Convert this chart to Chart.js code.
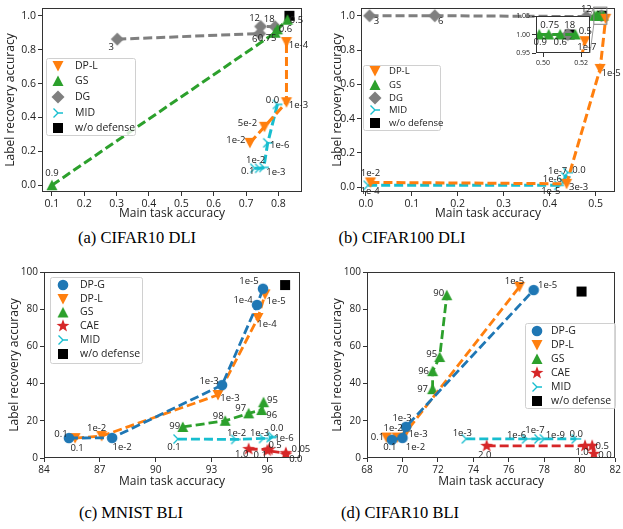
<!DOCTYPE html>
<html>
<head>
<meta charset="utf-8">
<script src="https://cdn.jsdelivr.net/npm/chart.js@4.4.0/dist/chart.umd.min.js"></script>
<style>
  html, body { margin: 0; padding: 0; background: #fff; overflow: hidden; }
  #page { position: relative; width: 623px; height: 529px; }
  canvas { position: absolute; }
  .cap { position: absolute; font-family: 'Liberation Serif', 'Times New Roman', serif; font-size: 16.5px;
         line-height: 19px; color: #000; transform: translateX(-50%); white-space: nowrap; }
</style>
</head>
<body>
<div id="page">
  <canvas id="chart_a" width="310" height="225" style="left:0px;top:0px"></canvas>
  <canvas id="chart_b" width="313" height="225" style="left:310px;top:0px"></canvas>
  <canvas id="chart_b_inset" width="115" height="70" style="left:505px;top:0px"></canvas>
  <canvas id="chart_c" width="310" height="235" style="left:0px;top:255px"></canvas>
  <canvas id="chart_d" width="313" height="235" style="left:310px;top:255px"></canvas>
  <div class="cap" style="left:137px;top:228px">(a) CIFAR10 DLI</div>
  <div class="cap" style="left:402px;top:228px">(b) CIFAR100 DLI</div>
  <div class="cap" style="left:131px;top:503px">(c) MNIST BLI</div>
  <div class="cap" style="left:400px;top:503px">(d) CIFAR10 BLI</div>
</div>
<script>
// values

// (a) CIFAR10 DLI
const A_XTICKS = [0.1, 0.2, 0.3, 0.4, 0.5, 0.6, 0.7, 0.8];
const A_YTICKS = [0.0, 0.2, 0.4, 0.6, 0.8, 1.0];
const A_DPL_X = [0.712, 0.757, 0.825, 0.825];
const A_DPL_Y = [0.25, 0.345, 0.49, 0.845];
const A_DPL_TXT = ['1e-2', '5e-2', '1e-3', '1e-4'];
const A_GS_X = [0.1, 0.79, 0.797, 0.828];
const A_GS_Y = [0.0, 0.9, 0.92, 0.977];
const A_GS_TXT = ['0.9', '0.75', '0.6', '0.5'];
const A_DG_X = [0.302, 0.742, 0.745, 0.79];
const A_DG_Y = [0.862, 0.895, 0.937, 0.935];
const A_DG_TXT = ['3', '6', '12', '18'];
const A_MID_X = [0.727, 0.742, 0.755, 0.767, 0.797];
const A_MID_Y = [0.1, 0.1, 0.105, 0.25, 0.477];
const A_MID_TXT = ['0.1', '1e-2', '1e-3', '1e-6', '0.0'];
const A_WO_X = [0.834];
const A_WO_Y = [1.0];

// (b) CIFAR100 DLI
const B_XTICKS = [0.0, 0.1, 0.2, 0.3, 0.4, 0.5];
const B_YTICKS = [0.0, 0.2, 0.4, 0.6, 0.8, 1.0];
const B_INSET_XTICKS = [0.50, 0.52];
const B_INSET_YTICKS = [0.95, 1.00, 1.05];
const B_DPL_X = [0.01, 0.437, 0.51, 0.522];
const B_DPL_Y = [0.028, 0.02, 0.69, 0.982];
const B_DPL_TXT = ['1e-2', '3e-3', '1e-5', '1e-7'];
const B_GS_X = [0.498, 0.503, 0.509, 0.517];
const B_GS_Y = [1.0, 1.0, 1.0, 1.0];
const B_GS_TXT = ['0.9', '0.75', '0.6', '0.5'];
const B_DG_X = [0.008, 0.15, 0.48, 0.513];
const B_DG_Y = [1.0, 1.0, 0.995, 1.0];
const B_DG_TXT = ['3', '6', '12', '18'];
const B_MID_X = [0.005, 0.42, 0.43, 0.435, 0.44];
const B_MID_Y = [0.011, 0.011, 0.03, 0.06, 0.085];
const B_MID_TXT = ['1e-4', '1e-5', '1e-6', '1e-7', '0.0'];
const B_WO_X = [0.514];
const B_WO_Y = [1.0];

// (c) MNIST BLI
const C_XTICKS = [84, 87, 90, 93, 96];
const C_YTICKS = [0, 20, 40, 60, 80, 100];
const C_DPG_X = [85.34, 87.66, 93.57, 95.45, 95.77];
const C_DPG_Y = [10.75, 10.8, 39.2, 82.3, 91.0];
const C_DPG_TXT = ['0.1', '1e-2', '1e-3', '1e-4', '1e-5'];
const C_DPL_X = [85.67, 87.1, 93.35, 95.5, 95.88];
const C_DPL_Y = [10.7, 11.8, 33.9, 75.3, 88.0];
const C_DPL_TXT = ['0.1', '1e-2', '1e-3', '1e-4', '1e-5'];
const C_GS_X = [91.46, 93.74, 95.0, 95.7, 95.8];
const C_GS_Y = [16.7, 20.0, 24.0, 25.8, 30.0];
const C_GS_TXT = ['99', '98', '97', '96', '95'];
const C_CAE_X = [95.0, 96.1, 96.0, 97.0, 97.0];
const C_CAE_Y = [4.8, 4.6, 4.0, 2.6, 1.8];
const C_CAE_TXT = ['1.0', '0.5', '0.1', '0.05', '0.0'];
const C_MID_X = [91.2, 94.3, 95.8, 96.2, 96.3];
const C_MID_Y = [10.2, 10.0, 10.5, 11.0, 11.5];
const C_MID_TXT = ['0.1', '1e-2', '1e-3', '1e-6', '0.0'];
const C_WO_X = [96.96];
const C_WO_Y = [93.0];

// (d) CIFAR10 BLI
const D_XTICKS = [68, 70, 72, 74, 76, 78, 80, 82];
const D_YTICKS = [0, 20, 40, 60, 80, 100];
const D_DPG_X = [69.4, 70.0, 70.2, 77.4];
const D_DPG_Y = [9.8, 10.8, 16.8, 90.3];
const D_DPG_TXT = ['0.1', '1e-2', '1e-3', '1e-5'];
const D_DPL_X = [69.1, 69.7, 70.2, 76.6];
const D_DPL_Y = [11.0, 11.0, 14.0, 92.0];
const D_DPL_TXT = ['0.1', '1e-2', '1e-3', '1e-5'];
const D_GS_X = [71.7, 71.7, 72.1, 72.5];
const D_GS_Y = [37.0, 46.7, 54.3, 87.5];
const D_GS_TXT = ['97', '96', '95', '90'];
const D_CAE_X = [74.75, 80.3, 80.7, 80.8];
const D_CAE_Y = [6.5, 6.5, 6.5, 2.2];
const D_CAE_TXT = ['2.0', '1.0', '0.5', '0.0'];
const D_MID_X = [73.6, 77.0, 77.7, 78.0, 79.8];
const D_MID_Y = [10.3, 10.3, 10.3, 10.3, 10.3];
const D_MID_TXT = ['1e-3', '1e-6', '1e-7', '1e-9', '0.0'];
const D_WO_X = [80.1];
const D_WO_Y = [89.5];


const FONT = "'Open Sans', 'DejaVu Sans', sans-serif";
const TEXT_COLOR = '#222222';
const FRAME_COLOR = '#333333';
const C_BLUE = '#1f77b4';
const C_ORANGE = '#ff7f0e';
const C_GREEN = '#2ca02c';
const C_GRAY = '#7f7f7f';
const C_RED = '#d62728';
const C_CYAN = '#17becf';
const C_BLACK = '#000000';

// marker images, shared by the plot and the legend
function make_marker( kind, color ) {
  const c = document.createElement( 'canvas' );
  c.width = 16;
  c.height = 16;
  const g = c.getContext( '2d' );
  g.fillStyle = color;
  g.strokeStyle = color;
  g.translate( 8, 8 );
  g.beginPath();
  if ( kind == 'circle' ) {
    g.arc( 0, 0, 5.3, 0, 2 * Math.PI );
    g.fill();
  } else if ( kind == 'tri_down' ) {
    g.moveTo( -5.5, -5 ); g.lineTo( 5.5, -5 ); g.lineTo( 0, 5.5 );
    g.closePath(); g.fill();
  } else if ( kind == 'tri_up' ) {
    g.moveTo( -5.5, 5 ); g.lineTo( 5.5, 5 ); g.lineTo( 0, -5.5 );
    g.closePath(); g.fill();
  } else if ( kind == 'diamond' ) {
    g.moveTo( 0, -6.5 ); g.lineTo( 6.5, 0 ); g.lineTo( 0, 6.5 ); g.lineTo( -6.5, 0 );
    g.closePath(); g.fill();
  } else if ( kind == 'square' ) {
    g.fillRect( -5, -5, 10, 10 );
  } else if ( kind == 'star' ) {
    for ( let i = 0; i < 10; i++ ) {
      const r = i % 2 == 0 ? 6.8 : 2.8;
      const a = -Math.PI / 2 + i * Math.PI / 5;
      if ( i == 0 ) g.moveTo( r * Math.cos( a ), r * Math.sin( a ) );
      else g.lineTo( r * Math.cos( a ), r * Math.sin( a ) );
    }
    g.closePath(); g.fill();
  } else if ( kind == 'tri_right' ) {
    g.lineWidth = 1.4;
    g.moveTo( 0, 0 ); g.lineTo( 5, 0 );
    g.moveTo( 0, 0 ); g.lineTo( -4.5, -4.5 );
    g.moveTo( 0, 0 ); g.lineTo( -4.5, 4.5 );
    g.stroke();
  }
  return c;
}

function to_points( xs, ys ) {
  return xs.map( ( x, i ) => ( { x: x, y: ys[ i ] } ) );
}

function make_set( label, xs, ys, texts, offsets, color, kind, width, clip ) {
  const ds = {
    label: label,
    data: to_points( xs, ys ),
    showLine: width > 0,
    borderColor: color,
    backgroundColor: color,
    borderWidth: width,
    borderDash: [ 9, 4 ],
    pointStyle: make_marker( kind, color ),
    pointRadius: 5,
    point_texts: texts,
    text_offsets: offsets
  };
  if ( clip !== undefined ) ds.clip = clip;
  return ds;
}

function make_axis( horizontal, range, ticks, digits, size, title, title_pad, font_size ) {
  return {
    type: 'linear',
    position: horizontal ? 'bottom' : 'left',
    min: range[ 0 ],
    max: range[ 1 ],
    afterBuildTicks: s => { s.ticks = ticks.map( v => ( { value: v } ) ); },
    afterFit: s => {
      if ( horizontal ) s.height = size; else s.width = size;
      s.paddingLeft = 0; s.paddingRight = 0; s.paddingTop = 0; s.paddingBottom = 0;
    },
    ticks: {
      font: { family: FONT, size: font_size },
      color: TEXT_COLOR,
      padding: 2,
      maxRotation: 0,
      autoSkip: false,
      callback: v => v.toFixed( digits )
    },
    grid: { drawOnChartArea: false, drawTicks: true, tickLength: 4, color: FRAME_COLOR, lineWidth: 1 },
    border: { display: false },
    title: title ? {
      display: true, text: title, color: TEXT_COLOR,
      font: { family: FONT, size: 12 }, padding: title_pad
    } : { display: false }
  };
}

// axes box drawn on all four sides
const frame_plugin = {
  id: 'frame',
  beforeDraw( chart, args, o ) {
    if ( !o.white ) return;
    const a = chart.chartArea;
    chart.ctx.save();
    chart.ctx.fillStyle = '#ffffff';
    chart.ctx.fillRect( a.left, a.top, a.right - a.left, a.bottom - a.top );
    chart.ctx.restore();
  },
  afterDatasetsDraw( chart ) {
    const a = chart.chartArea;
    const ctx = chart.ctx;
    ctx.save();
    ctx.strokeStyle = FRAME_COLOR;
    ctx.lineWidth = 1;
    ctx.strokeRect( Math.round( a.left ) + 0.5, Math.round( a.top ) + 0.5,
      Math.round( a.right - a.left ) - 1, Math.round( a.bottom - a.top ) - 1 );
    ctx.restore();
  }
};

// small text next to every point
const point_text_plugin = {
  id: 'point_texts',
  afterDatasetsDraw( chart, args, o ) {
    const ctx = chart.ctx;
    ctx.save();
    ctx.font = o.size + 'px ' + FONT;
    ctx.fillStyle = TEXT_COLOR;
    ctx.textAlign = 'center';
    ctx.textBaseline = 'middle';
    chart.data.datasets.forEach( ( ds, i ) => {
      if ( !ds.point_texts || !ds.text_offsets ) return;
      const meta = chart.getDatasetMeta( i );
      ds.point_texts.forEach( ( t, j ) => {
        const off = ds.text_offsets[ j ];
        if ( !off ) return;
        ctx.fillText( t, meta.data[ j ].x + off[ 0 ], meta.data[ j ].y + off[ 1 ] );
      } );
    } );
    ctx.restore();
  }
};

// legend box placed like the matplotlib one
const legend_plugin = {
  id: 'mini_legend',
  afterDraw( chart, args, o ) {
    if ( !o.box ) return;
    const ctx = chart.ctx;
    const [ bx, by, bw, bh ] = o.box;
    ctx.save();
    ctx.beginPath();
    ctx.roundRect( bx + 0.5, by + 0.5, bw, bh, 2 );
    ctx.fillStyle = 'rgba(255,255,255,0.8)';
    ctx.fill();
    ctx.strokeStyle = '#d0d0d0';
    ctx.lineWidth = 1;
    ctx.stroke();
    ctx.font = o.size + 'px ' + FONT;
    ctx.textBaseline = 'middle';
    ctx.textAlign = 'left';
    chart.data.datasets.forEach( ( ds, i ) => {
      const y = o.rows[ i ];
      ctx.drawImage( ds.pointStyle, o.mx - 8, y - 8 );
      ctx.fillStyle = TEXT_COLOR;
      ctx.fillText( ds.label, o.tx, y );
    } );
    ctx.restore();
  }
};

// rectangle marking the zoomed region in (b)
const zoom_box_plugin = {
  id: 'zoom_box',
  afterDatasetsDraw( chart, args, o ) {
    if ( !o.x ) return;
    const sx = chart.scales.x, sy = chart.scales.y;
    const ctx = chart.ctx;
    const x0 = sx.getPixelForValue( o.x[ 0 ] ), x1 = sx.getPixelForValue( o.x[ 1 ] );
    const y0 = sy.getPixelForValue( o.y[ 1 ] ), y1 = sy.getPixelForValue( o.y[ 0 ] );
    ctx.save();
    ctx.strokeStyle = '#808080';
    ctx.lineWidth = 1;
    ctx.strokeRect( x0, y0, x1 - x0, y1 - y0 );
    ctx.restore();
  }
};

const PLUGINS = [ frame_plugin, point_text_plugin, legend_plugin, zoom_box_plugin ];

function base_options( x_axis, y_axis, padding, legend, text_size, extra ) {
  return {
    responsive: false,
    animation: false,
    devicePixelRatio: 1,
    events: [],
    layout: { padding: padding },
    scales: { x: x_axis, y: y_axis },
    plugins: {
      legend: { display: false },
      tooltip: { enabled: false },
      frame: extra.frame || {},
      point_texts: { size: text_size },
      mini_legend: legend,
      zoom_box: extra.zoom || {}
    }
  };
}

// ---------- (a)
new Chart( document.getElementById( 'chart_a' ), {
  type: 'scatter',
  data: { datasets: [
    make_set( 'DP-L', A_DPL_X, A_DPL_Y, A_DPL_TXT, [ [ -14, -3 ], [ -17, -3 ], [ 12, 3 ], [ 12, 3 ] ], C_ORANGE, 'tri_down', 3 ),
    make_set( 'GS', A_GS_X, A_GS_Y, A_GS_TXT, [ [ 0, -12 ], [ -8, 6 ], [ 8, 0 ], [ 9, 1 ] ], C_GREEN, 'tri_up', 3 ),
    make_set( 'DG', A_DG_X, A_DG_Y, A_DG_TXT, [ [ -6, 8 ], [ -5, 6 ], [ -6, -8 ], [ -6, -8 ] ], C_GRAY, 'diamond', 3 ),
    make_set( 'MID', A_MID_X, A_MID_Y, A_MID_TXT, [ [ -7, 3 ], [ -4, -8 ], [ 12, 5 ], [ 12, 2 ], [ -5, -4 ] ], C_CYAN, 'tri_right', 3 ),
    make_set( 'w/o defense', A_WO_X, A_WO_Y, null, null, C_BLACK, 'square', 0 )
  ] },
  options: base_options(
    make_axis( true, [ 0.0694, 0.873 ], A_XTICKS, 1, 33, 'Main task accuracy', { bottom: 4 }, 10.5 ),
    make_axis( false, [ -0.04, 1.046 ], A_YTICKS, 1, 42, 'Label recovery accuracy', { top: 3 }, 10.5 ),
    { top: 3, right: 5, left: 0, bottom: 0 },
    { box: [ 46, 58, 89, 77 ], rows: [ 66, 81, 97, 113, 128 ], mx: 58, tx: 75, size: 10.5 },
    9.5, {} ),
  plugins: PLUGINS
} );

// ---------- (b)
function b_sets( off, clip ) {
  return [
    make_set( 'DP-L', B_DPL_X, B_DPL_Y, B_DPL_TXT, off.dpl, C_ORANGE, 'tri_down', 3, clip ),
    make_set( 'GS', B_GS_X, B_GS_Y, B_GS_TXT, off.gs, C_GREEN, 'tri_up', 3, clip ),
    make_set( 'DG', B_DG_X, B_DG_Y, B_DG_TXT, off.dg, C_GRAY, 'diamond', 3, clip ),
    make_set( 'MID', B_MID_X, B_MID_Y, B_MID_TXT, off.mid, C_CYAN, 'tri_right', 3, clip ),
    make_set( 'w/o defense', B_WO_X, B_WO_Y, null, null, C_BLACK, 'square', 0, clip )
  ];
}

const B_ZOOM_X = [ 0.4963, 0.5247 ];
const B_ZOOM_Y = [ 0.95, 1.05 ];

const chart_b = new Chart( document.getElementById( 'chart_b' ), {
  type: 'scatter',
  data: { datasets: b_sets( {
    dpl: [ [ 0, -9 ], [ 12, 4 ], [ 11, 4 ], null ],
    gs: [ null, null, null, null ],
    dg: [ [ 7, 6 ], [ 6, 6 ], [ 0, -7 ], null ],
    mid: [ [ 2, 6 ], [ -8, 6 ], [ -11, -3 ], [ -8, -6 ], [ 11, -2 ] ]
  } ) },
  options: base_options(
    make_axis( true, [ -0.0106, 0.5424 ], B_XTICKS, 1, 33, 'Main task accuracy', { bottom: 4 }, 10.5 ),
    make_axis( false, [ -0.028, 1.045 ], B_YTICKS, 1, 51, 'Label recovery accuracy', { top: 20 }, 10.5 ),
    { top: 3, right: 1, left: 0, bottom: 0 },
    { box: [ 53, 65, 77, 65 ], rows: [ 71, 85, 98, 110, 123 ], mx: 65, tx: 79, size: 9.5 },
    9.5, { zoom: { x: B_ZOOM_X, y: B_ZOOM_Y } } ),
  plugins: PLUGINS
} );

// lines from the marked region to the inset
const connector_plugin = {
  id: 'connectors',
  afterDraw( chart ) {
    const sx = chart_b.scales.x, sy = chart_b.scales.y;
    const dx = 310 - 505;
    const a = chart.chartArea;
    const rx = sx.getPixelForValue( B_ZOOM_X[ 0 ] ) + dx;
    const ctx = chart.ctx;
    ctx.save();
    ctx.strokeStyle = '#808080';
    ctx.lineWidth = 0.8;
    ctx.beginPath();
    ctx.moveTo( rx, sy.getPixelForValue( B_ZOOM_Y[ 1 ] ) );
    ctx.lineTo( a.right, a.top );
    ctx.moveTo( rx, sy.getPixelForValue( B_ZOOM_Y[ 0 ] ) );
    ctx.lineTo( a.right, a.bottom );
    ctx.stroke();
    ctx.restore();
  }
};

new Chart( document.getElementById( 'chart_b_inset' ), {
  type: 'scatter',
  data: { datasets: b_sets( {
    dpl: [ null, null, null, [ 2, 6 ] ],
    gs: [ [ 1, 8 ], [ 1, -9 ], [ 0, 8 ], [ 10, -3 ] ],
    dg: [ null, null, null, [ 2, -9 ] ],
    mid: [ null, null, null, null, null ]
  }, 0 ) },
  options: base_options(
    make_axis( true, B_ZOOM_X, B_INSET_XTICKS, 2, 17, null, null, 7 ),
    make_axis( false, B_ZOOM_Y, B_INSET_YTICKS, 2, 31, null, null, 7 ),
    { top: 16, right: 30, left: 0, bottom: 0 },
    {},
    9.5, { frame: { white: true } } ),
  plugins: PLUGINS.concat( [ connector_plugin ] )
} );

// ---------- (c)
new Chart( document.getElementById( 'chart_c' ), {
  type: 'scatter',
  data: { datasets: [
    make_set( 'DP-G', C_DPG_X, C_DPG_Y, C_DPG_TXT, [ [ -8, -4 ], [ 10, 9 ], [ -13, -4 ], [ -14, -5 ], [ -14, -7 ] ], C_BLUE, 'circle', 2.8 ),
    make_set( 'DP-L', C_DPL_X, C_DPL_Y, C_DPL_TXT, [ [ 2, 10 ], [ -5, -8 ], [ 12, 3 ], [ 9, 6 ], [ 11, 7 ] ], C_ORANGE, 'tri_down', 2.8 ),
    make_set( 'GS', C_GS_X, C_GS_Y, C_GS_TXT, [ [ -8, -1 ], [ -7, -5 ], [ -8, -5 ], [ 10, 5 ], [ 9, -2 ] ], C_GREEN, 'tri_up', 2.8 ),
    make_set( 'CAE', C_CAE_X, C_CAE_Y, C_CAE_TXT, [ [ -7, 5 ], [ 6, -4 ], [ -7, 5 ], [ 15, -4 ], [ 10, 5 ] ], C_RED, 'star', 2.8 ),
    make_set( 'MID', C_MID_X, C_MID_Y, C_MID_TXT, [ [ -4, 8 ], [ 1, -6 ], [ -4, -5 ], [ 13, 1 ], [ 4, -8 ] ], C_CYAN, 'tri_right', 2.8 ),
    make_set( 'w/o defense', C_WO_X, C_WO_Y, null, null, C_BLACK, 'square', 0 )
  ] },
  options: base_options(
    make_axis( true, [ 84, 97.76 ], C_XTICKS, 0, 32, 'Main task accuracy', { bottom: 1 }, 10 ),
    make_axis( false, [ 0, 100 ], C_YTICKS, 0, 44, 'Label recovery accuracy', { top: 7 }, 10 ),
    { top: 17, right: 10, left: 0, bottom: 0 },
    { box: [ 50, 22, 92, 86 ], rows: [ 30, 44, 57.5, 71, 85, 99 ], mx: 63, tx: 80, size: 10.5 },
    9.5, {} ),
  plugins: PLUGINS
} );

// ---------- (d)
new Chart( document.getElementById( 'chart_d' ), {
  type: 'scatter',
  data: { datasets: [
    make_set( 'DP-G', D_DPG_X, D_DPG_Y, D_DPG_TXT, [ [ -2, 8 ], [ 13, 9 ], [ -4, -8 ], [ 14, -5 ] ], C_BLUE, 'circle', 2.8 ),
    make_set( 'DP-L', D_DPL_X, D_DPL_Y, D_DPL_TXT, [ [ -9, 0 ], [ -4, -9 ], [ 12, 2 ], [ -5, -6 ] ], C_ORANGE, 'tri_down', 2.8 ),
    make_set( 'GS', D_GS_X, D_GS_Y, D_GS_TXT, [ [ -10, 0 ], [ -9, 0 ], [ -8, -3 ], [ -8, -2 ] ], C_GREEN, 'tri_up', 2.8 ),
    make_set( 'CAE', D_CAE_X, D_CAE_Y, D_CAE_TXT, [ [ -2, 9 ], [ -3, 6 ], [ 10, 0 ], [ 11, 1 ] ], C_RED, 'star', 2.8 ),
    make_set( 'MID', D_MID_X, D_MID_Y, D_MID_TXT, [ [ -4, -6 ], [ -10, -4 ], [ -4, -9 ], [ 11, -4 ], [ 0, -5 ] ], C_CYAN, 'tri_right', 2.8 ),
    make_set( 'w/o defense', D_WO_X, D_WO_Y, null, null, C_BLACK, 'square', 0 )
  ] },
  options: base_options(
    make_axis( true, [ 68, 82 ], D_XTICKS, 0, 32, 'Main task accuracy', { bottom: 1 }, 10 ),
    make_axis( false, [ 0, 100 ], D_YTICKS, 0, 57, 'Label recovery accuracy', { top: 20 }, 10 ),
    { top: 17, right: 6, left: 0, bottom: 0 },
    { box: [ 215, 68, 90, 85 ], rows: [ 76, 90, 104, 118, 132, 146 ], mx: 227, tx: 241, size: 10.5 },
    9.5, {} ),
  plugins: PLUGINS
} );
</script>
</body>
</html>
